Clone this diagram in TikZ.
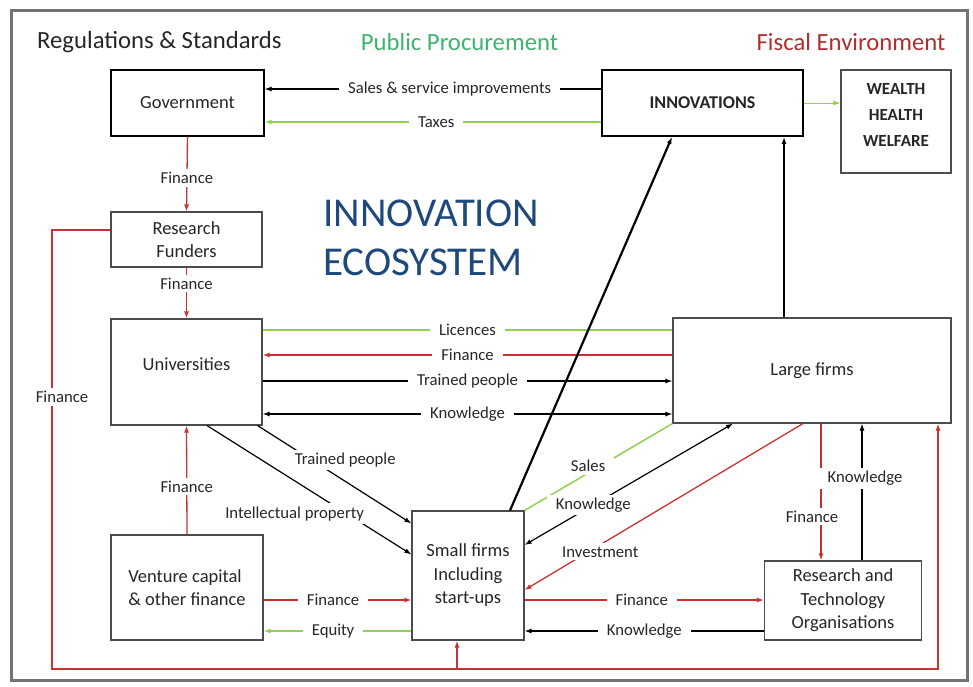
\documentclass[tikz,border=0pt]{standalone}
\usepackage{fontspec}
\setmainfont{Carlito}
\usepackage{tikz}
\usetikzlibrary{calc, arrows, arrows.meta, positioning}
\tikzset{>={Latex[length=7pt,width=5pt]}}
\definecolor{finred}{RGB}{200,50,50}
\definecolor{eqgreen}{RGB}{146,208,80}
\definecolor{procgreen}{RGB}{60,180,110}
\definecolor{ecoblue}{RGB}{31,73,125}
\tikzset{
  box/.style={draw=black!70, line width=1.1pt, fill=white, align=center, text=black!85,
    font=\fontsize{18.5}{23.5}\selectfont, inner sep=0pt},
  lbl/.style={fill=white, text=black!85, font=\fontsize{16.7}{20}\selectfont,
    inner xsep=9pt, inner ysep=3pt},
  head/.style={inner sep=0pt, font=\fontsize{24.7}{28}\selectfont},
  fin/.style={finred, line width=1.3pt},
  eq/.style={eqgreen, line width=1.5pt},
  kn/.style={black, line width=1.2pt},
  bold/.style={black, line width=2.2pt}
}

\begin{document}
\begin{tikzpicture}[x=1pt, y=-1pt]
\useasboundingbox (0,0) rectangle (973,686);
\draw[black!55, line width=3pt] (11,10) rectangle (967,680);

\node[head, anchor=west, text=black!85] (regs) at (37,42) {Regulations \& Standards};
\node[head, text=procgreen] (proc) at (459.5,42) {Public Procurement};
\node[head, text=finred!90!black] (fisc) at (851,42) {Fiscal Environment};
\node[anchor=west, align=left, inner sep=0pt, text=ecoblue,
  font=\fontsize{41}{49}\selectfont] (eco) at (323,237.5) {INNOVATION\\ECOSYSTEM};

\node[box, draw=black, minimum width=153pt, minimum height=66pt] (gov) at (187.5,103) {Government};
\node[box, draw=black, line width=1.8pt, minimum width=201pt, minimum height=66pt,
  font=\bfseries\fontsize{18}{22}\selectfont] (inno) at (702.5,103) {INNOVATIONS};
\node[box, minimum width=110pt, minimum height=103pt, text depth=14pt,
  font=\bfseries\fontsize{17}{26}\selectfont] (wealth) at (896,121.5) {WEALTH\\HEALTH\\WELFARE};
\node[box, minimum width=151pt, minimum height=55pt] (rf) at (186.5,239.5) {Research\\Funders};
\node[box, minimum width=151pt, minimum height=106pt, text depth=16pt] (uni) at (186.5,372) {Universities};
\node[box, minimum width=278pt, minimum height=105pt] (large) at (812,370.5) {Large firms};
\node[box, align=left, minimum width=152pt, minimum height=105pt] (vc) at (187,587.5) {Venture capital\\\& other finance};
\node[box, minimum width=112pt, minimum height=129pt] (small) at (468,575.5) {Small firms\\Including\\start-ups};
\node[box, minimum width=157pt, minimum height=79pt] (rto) at (843,600.5) {Research and\\Technology\\Organisations};

\coordinate (loopsw) at (52,669);

\draw[kn, ->] ([yshift=14pt]inno.west) -- node[lbl, pos=0.45] {Sales \& service improvements} ([yshift=14pt]inno.west -| gov.east);
\draw[eq, ->] ([yshift=-19pt]inno.west) -- node[lbl, pos=0.49] {Taxes} ([yshift=-19pt]inno.west -| gov.east);
\draw[eq, ->, line width=1pt] (inno.east) -- (inno.east -| wealth.west);

\draw[fin, ->] (gov.south) -- node[lbl, pos=0.55] {Finance} (rf.north);
\draw[fin, ->] (rf.south) -- node[lbl, pos=0.31] {Finance} (uni.north);
\draw[fin, ->] (vc.north) -- node[lbl, pos=0.44] {Finance} (uni.south);

\draw[fin, line width=1.8pt, ->] ([yshift=9.5pt]rf.west) -| node[lbl, pos=0.69, xshift=10pt] {Finance} (loopsw)
  -| ([xshift=126pt]large.south);
\draw[fin, line width=1.8pt, ->] ([xshift=-11pt]small.south |- loopsw) -- ([xshift=-11pt]small.south);

\draw[eq] ([yshift=42pt]uni.east) -- node[lbl] {Licences} ([yshift=42pt]uni.east -| large.west);
\draw[fin, ->] ([yshift=17pt]uni.east -| large.west) -- node[lbl] {Finance} ([yshift=17pt]uni.east);
\draw[kn, ->] ([yshift=-9pt]uni.east) -- node[lbl] {Trained people} ([yshift=-9pt]uni.east -| large.west);
\draw[kn, <->] ([yshift=-42pt]uni.east) -- node[lbl] {Knowledge} ([yshift=-42pt]uni.east -| large.west);

\draw[kn, ->] ([xshift=-5pt]uni.south east) -- node[lbl, pos=0.355, xshift=33pt] {Trained people} ([yshift=-13pt]small.north west);
\draw[kn, ->] ([xshift=20.5pt]uni.south) -- node[lbl, pos=0.683, xshift=-52pt] {Intellectual property} ([yshift=-44pt]small.north west);

\draw[bold, ->] ([xshift=-28pt]large.north) -- ([xshift=-28pt]large.north |- inno.south);
\draw[bold, ->] ([xshift=42pt]small.north) -- ([xshift=-30.5pt]inno.south);

\draw[eq] (small.north east) -- node[lbl, pos=0.43, yshift=7pt] {Sales} (large.south west);
\draw[kn, <->] ([yshift=30.5pt]small.east) -- node[lbl, pos=0.33] {Knowledge} ([xshift=-79pt]large.south);
\draw[fin, ->] ([xshift=-9pt]large.south) -- node[lbl, pos=0.728, yshift=-7pt] {Investment} ([yshift=-14.5pt]small.east);

\draw[fin, ->] ([xshift=9pt]large.south) -- node[lbl, pos=0.68, xshift=-9pt] {Finance} ([xshift=9pt]large.south |- rto.north);
\draw[kn, ->] ([xshift=19pt]rto.north) -- node[lbl, pos=0.6, xshift=3pt] {Knowledge} ([xshift=19pt]rto.north |- large.south);

\draw[fin, ->] ([yshift=-24.5pt]small.east) -- node[lbl, pos=0.49] {Finance} ([yshift=-24.5pt]small.east -| rto.west);
\draw[kn, ->] ([yshift=-55.5pt]small.east -| rto.west) -- node[lbl, pos=0.5] {Knowledge} ([yshift=-55.5pt]small.east);

\draw[fin, ->] ([yshift=-12.5pt]vc.east) -- node[lbl, pos=0.47] {Finance} ([yshift=-12.5pt]vc.east -| small.west);
\draw[eq, ->] ([yshift=-43.5pt]vc.east -| small.west) -- node[lbl, pos=0.53] {Equity} ([yshift=-43.5pt]vc.east);
\end{tikzpicture}
\end{document}
